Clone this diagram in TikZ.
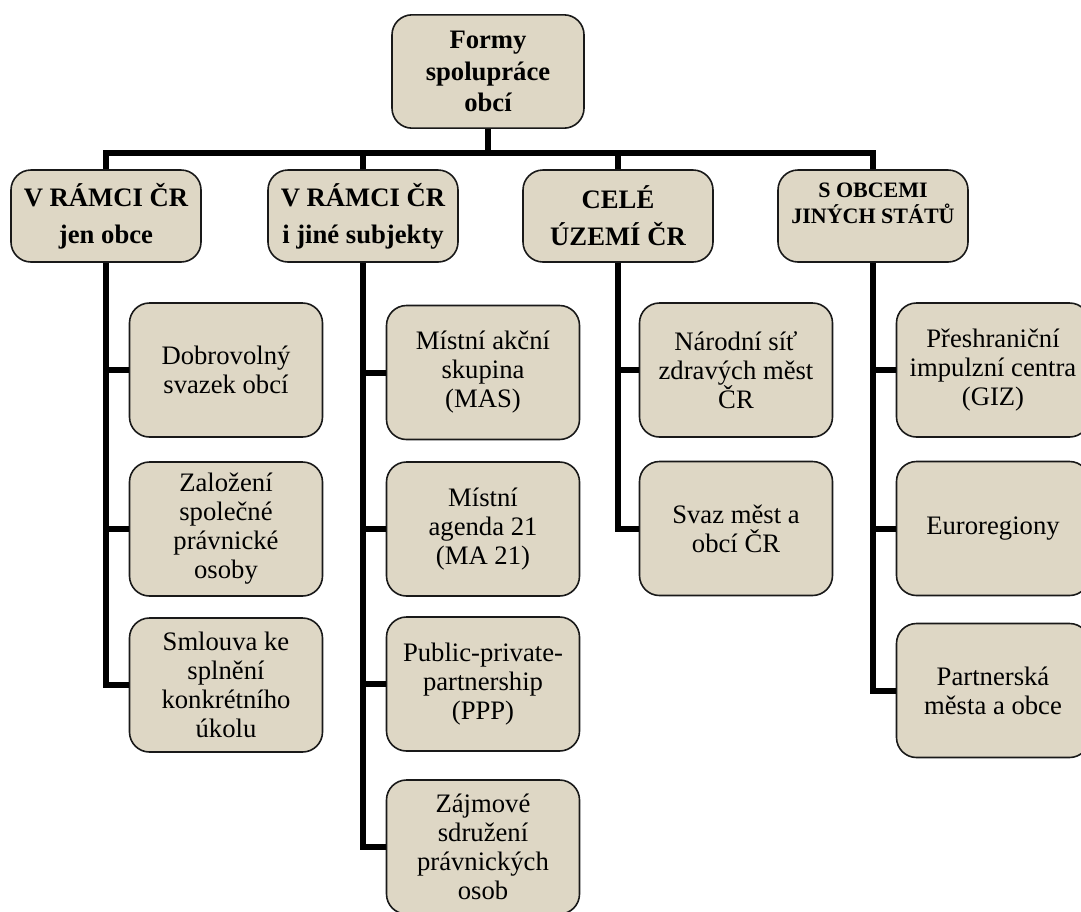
\documentclass[tikz,border=0pt]{standalone}
\usepackage{fontspec}
\setmainfont{Liberation Serif}
\definecolor{boxfill}{RGB}{222,215,197}
\begin{document}
\begin{tikzpicture}[x=0.75pt,y=-0.75pt,
  box/.style={draw=black!90, line width=1.2pt, fill=boxfill, rounded corners=15pt, align=center, inner sep=2pt},
  topbox/.style={box, minimum width=144pt, minimum height=85pt, font=\bfseries\fontsize{20}{23.5}\selectfont},
  lone/.style={box, minimum width=142.5pt, minimum height=69pt, font=\bfseries\fontsize{20}{28}\selectfont},
  ltwo/.style={box, minimum width=142.5pt, minimum height=69pt, font=\bfseries\fontsize{16.5}{19}\selectfont},
  leaf/.style={box, minimum width=144.75pt, minimum height=100.5pt, font=\fontsize{20}{21.75}\selectfont},
  conn/.style={line width=4.5pt, line join=miter}]
\useasboundingbox (0,0) rectangle (1081,911);
\coordinate (bar) at (488,153);
\node[topbox] (T) at (488,71.5) {Formy\\spolupráce\\obcí};
\node[lone] (A) at (106,216) {V RÁMCI ČR\\jen obce};
\node[lone] (B) at (363,216) {V RÁMCI ČR\\i jiné subjekty};
\node[lone] (C) at (618,216) {CELÉ\\ÚZEMÍ ČR};
\node[ltwo] (D) at (873,216) {S OBCEMI\\JINÝCH STÁTŮ\\\mbox{}};
\node[leaf] (a1) at (226,370) {Dobrovolný\\svazek obcí};
\node[leaf] (a2) at (226,529) {Založení\\společné\\právnické\\osoby};
\node[leaf] (a3) at (226,685) {Smlouva ke\\splnění\\konkrétního\\úkolu};
\node[leaf] (b1) at (483,372.5) {Místní akční\\skupina\\(MAS)};
\node[leaf] (b2) at (483,529) {Místní\\agenda 21\\(MA 21)};
\node[leaf] (b3) at (483,684) {Public-private-\\partnership\\(PPP)};
\node[leaf] (b4) at (483,847) {Zájmové\\sdružení\\právnických\\osob};
\node[leaf] (c1) at (736,370) {Národní síť\\zdravých měst\\ČR};
\node[leaf] (c2) at (736,528.5) {Svaz měst a\\obcí ČR};
\node[leaf] (d1) at (993,370) {Přeshraniční\\impulzní centra\\(GIZ)};
\node[leaf] (d2) at (993,528.5) {Euroregiony};
\node[leaf] (d3) at (993,690.5) {Partnerská\\města a obce};
\draw[conn] (T.south) -- (T.south |- bar);
\draw[conn] (A.north) -- (A.north |- bar) -- (D.north |- bar) -- (D.north);
\draw[conn] (B.north) -- (B.north |- bar);
\draw[conn] (C.north) -- (C.north |- bar);
\draw[conn] (A.south) |- (a3.west);
\draw[conn] (A.south |- a1.west) -- (a1.west);
\draw[conn] (A.south |- a2.west) -- (a2.west);
\draw[conn] (B.south) |- (b4.west);
\draw[conn] (B.south |- b1.west) -- (b1.west);
\draw[conn] (B.south |- b2.west) -- (b2.west);
\draw[conn] (B.south |- b3.west) -- (b3.west);
\draw[conn] (C.south) |- (c2.west);
\draw[conn] (C.south |- c1.west) -- (c1.west);
\draw[conn] (D.south) |- (d3.west);
\draw[conn] (D.south |- d1.west) -- (d1.west);
\draw[conn] (D.south |- d2.west) -- (d2.west);
\end{tikzpicture}
\end{document}
